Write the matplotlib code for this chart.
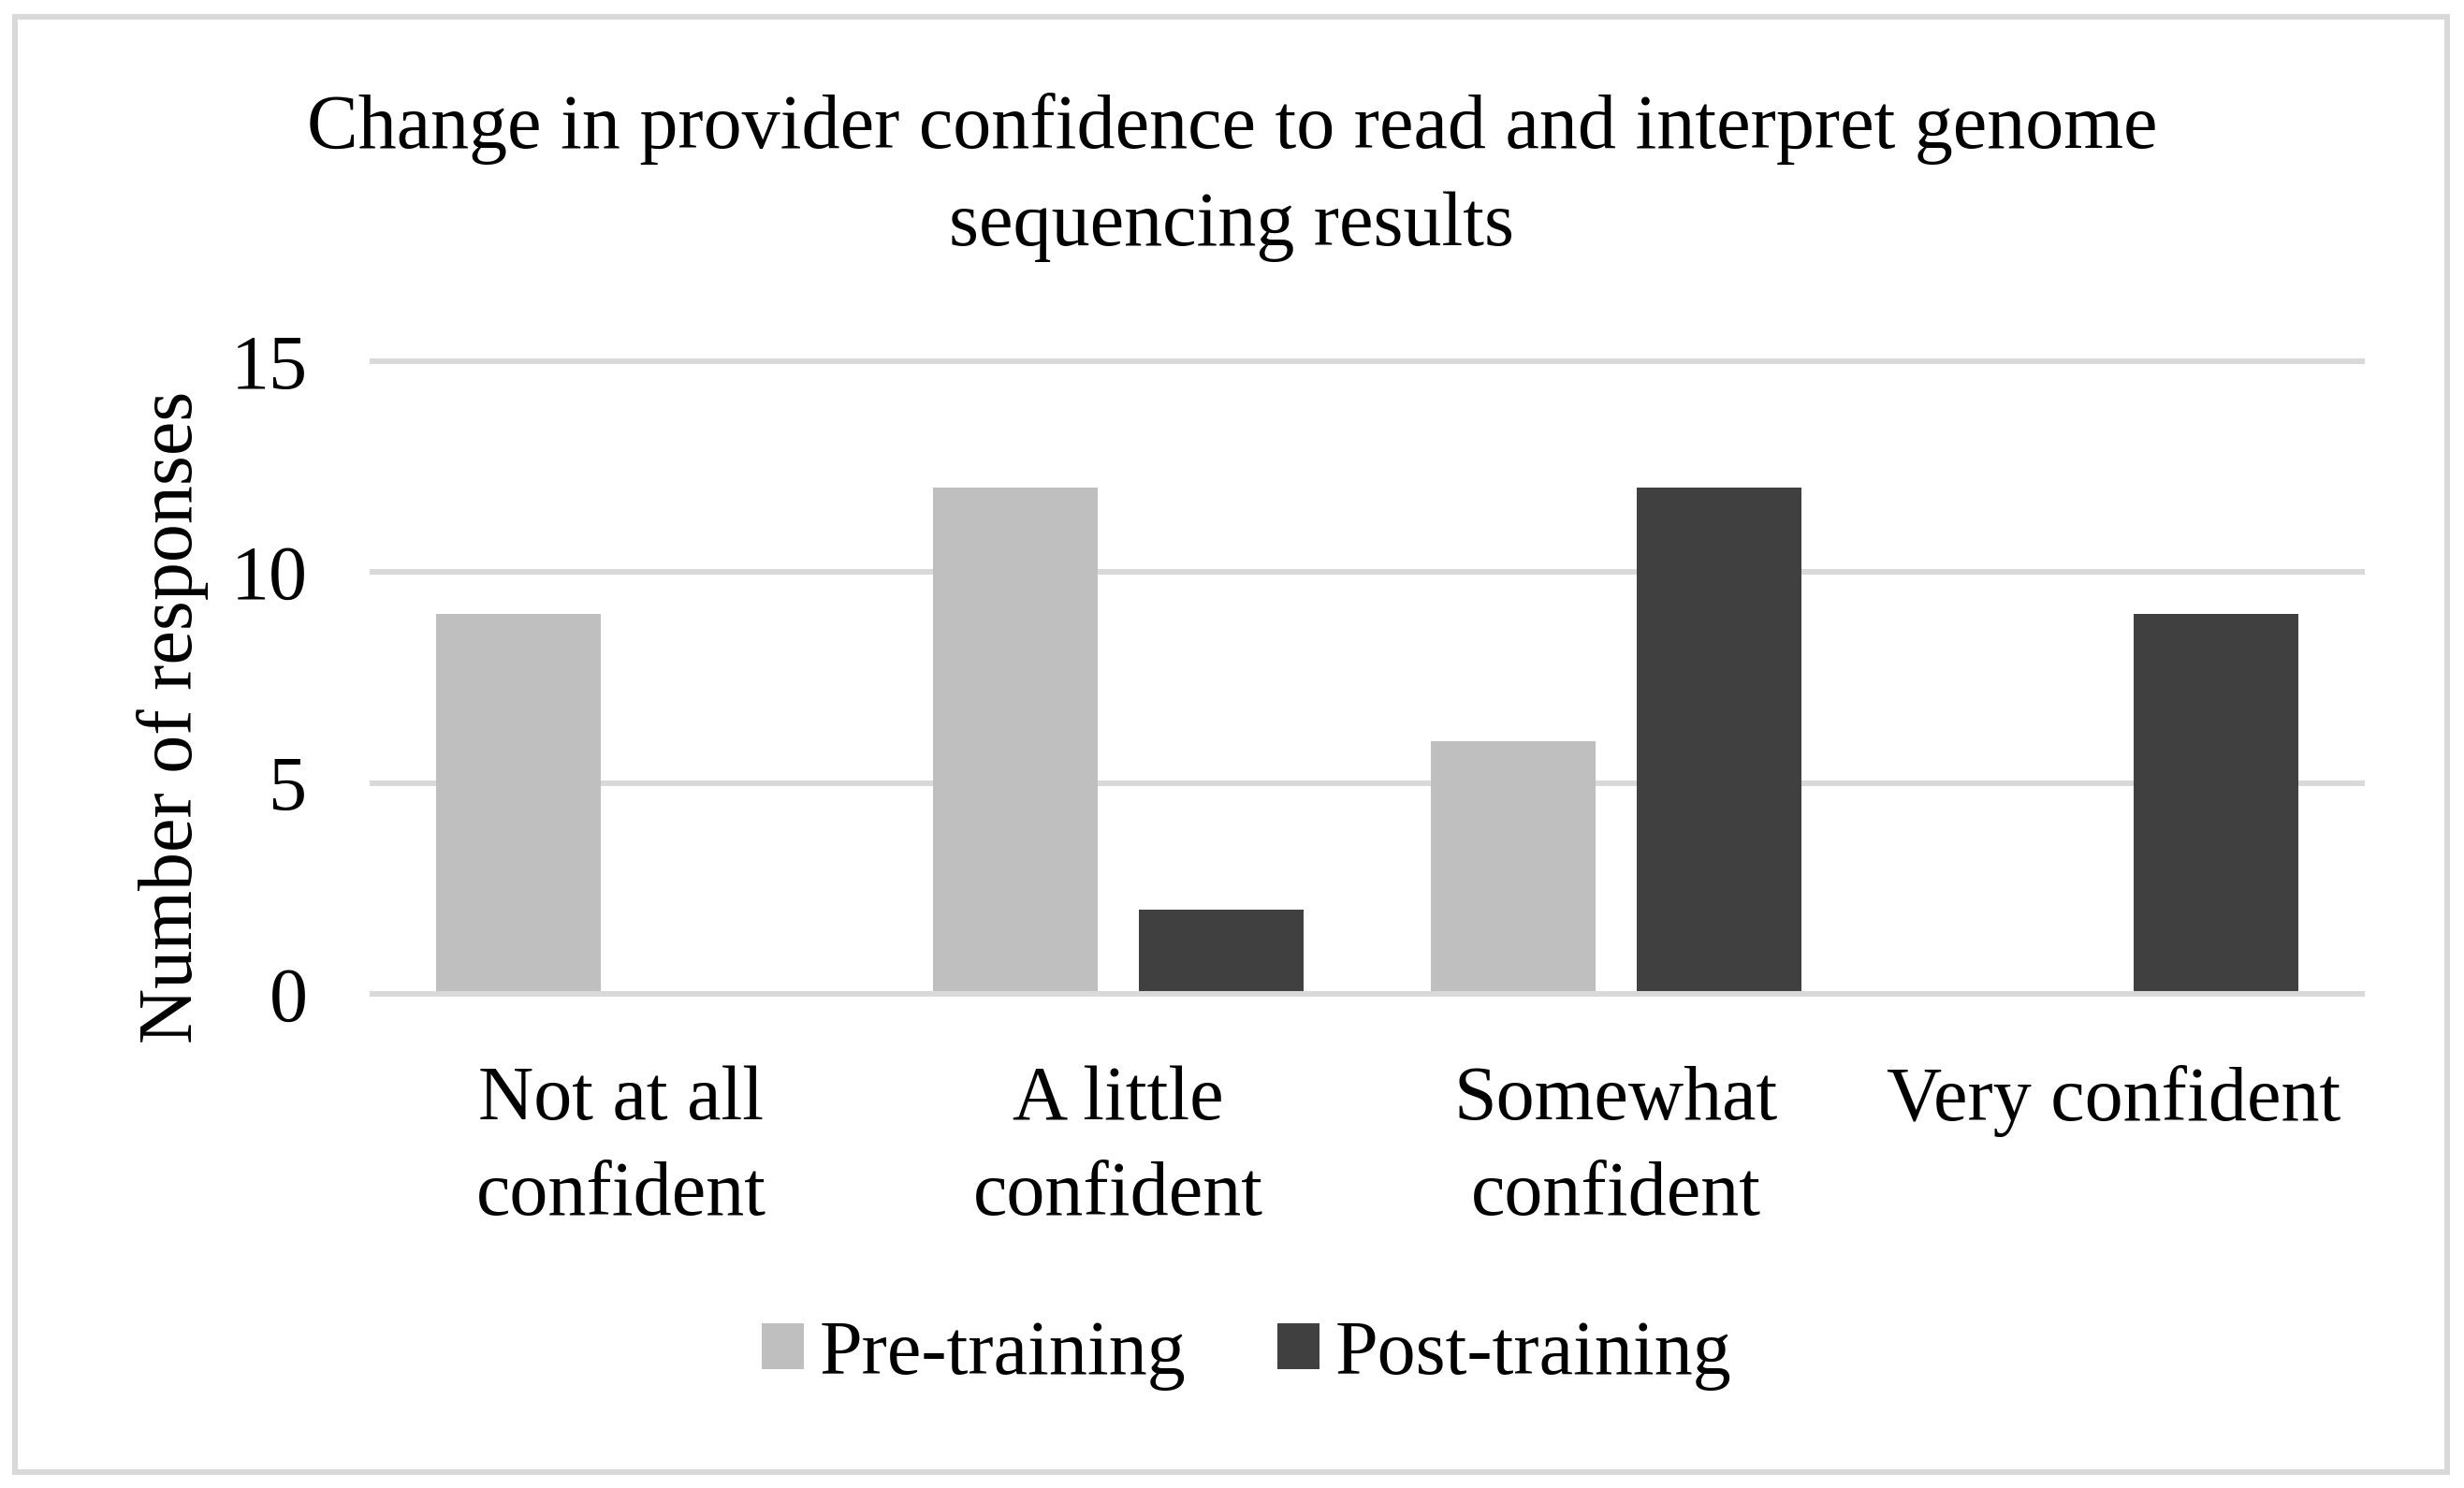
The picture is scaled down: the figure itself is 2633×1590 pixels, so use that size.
import matplotlib.pyplot as plt
import numpy as np
from matplotlib.patches import Rectangle

# data
categories = ['Not at all\nconfident', 'A little\nconfident', 'Somewhat\nconfident', 'Very confident']
pre_training = [9, 12, 6, 0]
post_training = [0, 2, 12, 9]
yticks = [0, 5, 10, 15]

plt.rcParams['font.family'] = ['Liberation Serif', 'DejaVu Serif']
FS = 59
W, H = 2633, 1590
fig = plt.figure(figsize=(W / 100, H / 100), dpi=100)

# chart border
fig.patches.append(Rectangle((15.5 / W, 1 - 1573 / H), (2615 - 15.5) / W, (1573 - 18) / H,
                             transform=fig.transFigure, fill=False,
                             edgecolor='#D9D9D9', linewidth=4.3))

ax = fig.add_axes([398 / W, 1 - 1062 / H, (2524 - 398) / W, (1062 - 386) / H])
x = np.arange(len(categories))
bw = 0.332
off = 0.207
ax.bar(x - off, pre_training, bw, color='#BFBFBF', label='Pre-training', zorder=2)
ax.bar(x + off, post_training, bw, color='#404040', label='Post-training', zorder=2)

ax.set_xlim(-0.5, len(categories) - 0.5)
ax.set_ylim(0, 15)
ax.set_yticks(yticks)
ax.set_xticks(x)
ax.set_xticklabels(categories, fontsize=FS, linespacing=1.47)
ax.tick_params(axis='y', length=0, pad=50, labelsize=FS)
ax.tick_params(axis='x', length=0, pad=55)
ax.set_axisbelow(True)
ax.yaxis.grid(True, color='#D9D9D9', linewidth=4.3)
for ln in ax.get_ygridlines():
    ln.set_clip_on(False)
for s in ['top', 'left', 'right']:
    ax.spines[s].set_visible(False)
ax.spines['bottom'].set_color('#D9D9D9')
ax.spines['bottom'].set_linewidth(4.3)
ax.spines['bottom'].set_zorder(3)

fig.text(185 / W, 1 - 766 / H, 'Number of responses', rotation=90,
         ha='center', va='center', fontsize=FS)
fig.text(0.5, 1 - 99 / H,
         'Change in provider confidence to read and interpret genome\nsequencing results',
         ha='center', va='top', fontsize=FS, linespacing=1.5)

fig.legend(loc='center', bbox_to_anchor=(1332 / W, 1 - 1448 / H), ncol=2, frameon=False,
           fontsize=FS, handlelength=0.55, handleheight=0.55, handletextpad=0.2,
           columnspacing=1.2)

fig.savefig('out.png', dpi=100)
